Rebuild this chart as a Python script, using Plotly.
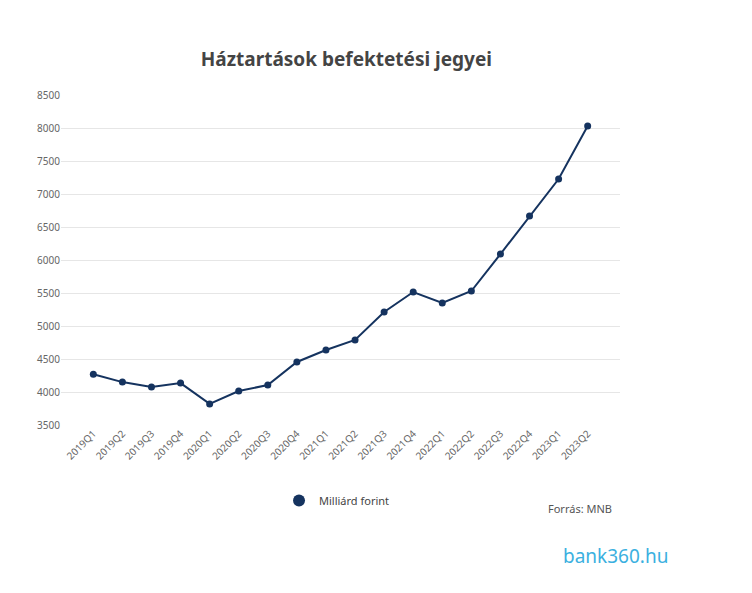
import plotly.graph_objects as go

quarters = ["2019Q1", "2019Q2", "2019Q3", "2019Q4", "2020Q1", "2020Q2", "2020Q3", "2020Q4",
            "2021Q1", "2021Q2", "2021Q3", "2021Q4", "2022Q1", "2022Q2", "2022Q3", "2022Q4",
            "2023Q1", "2023Q2"]
values = [4270, 4150, 4075, 4135, 3820, 4015, 4105, 4455,
          4636, 4788, 5212, 5515, 5348, 5530, 6090, 6667,
          7227, 8030]
y_ticks = [3500, 4000, 4500, 5000, 5500, 6000, 6500, 7000, 7500, 8000, 8500]

navy = "#15335f"

fig = go.Figure()
fig.add_trace(go.Scatter(
    x=quarters, y=values, mode="lines+markers", showlegend=False,
    line=dict(color=navy, width=2), marker=dict(color=navy, size=7),
))
# legend shows only the marker
fig.add_trace(go.Scatter(
    x=[None], y=[None], mode="markers", name="Milliárd forint",
    marker=dict(color=navy, size=12),
))

fig.update_layout(
    width=752, height=593,
    paper_bgcolor="white", plot_bgcolor="white",
    font=dict(family="Noto Sans, sans-serif", color="#555555", size=11),
    title=dict(text="<b>Háztartások befektetési jegyei</b>", x=0.45, y=0.925,
               xanchor="center", font=dict(size=19, color="#444444")),
    margin=dict(l=53, r=140, t=87, b=176),
    showlegend=True,
    legend=dict(orientation="h", x=0.39, y=-0.185, xanchor="left", yanchor="top",
                font=dict(size=11, color="#444444")),
    xaxis=dict(tickangle=-45, showgrid=False, showline=False, ticks="",
               tickfont=dict(size=10, color="#666666")),
    yaxis=dict(range=[3500, 8500], tickvals=y_ticks, showgrid=True,
               gridcolor="#e6e6e6", zeroline=False, ticks="",
               tickfont=dict(size=10, color="#666666")),
)

fig.add_annotation(text="Forrás: MNB", xref="paper", yref="paper", x=0.99, y=-0.225,
                   xanchor="right", yanchor="top", showarrow=False,
                   font=dict(size=11, color="#555555"))
fig.add_annotation(text="bank360.hu", xref="paper", yref="paper", x=1.09, y=-0.35,
                   xanchor="right", yanchor="top", showarrow=False,
                   font=dict(size=19, color="#3bb0e0"))

fig.write_html("out.html")
